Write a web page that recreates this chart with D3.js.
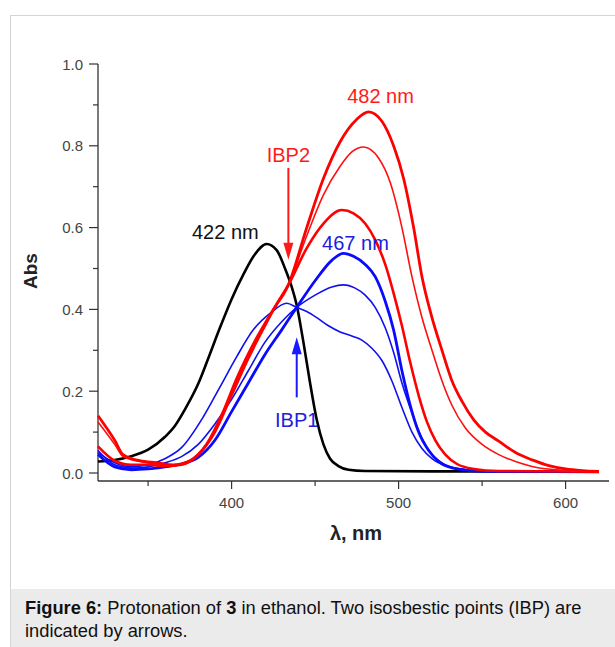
<!DOCTYPE html>
<html><head><meta charset="utf-8">
<script src="https://cdn.jsdelivr.net/npm/d3@7"></script>
<style>
body{margin:0;background:#fff;font-family:"Liberation Sans",Arial,sans-serif;}
</style></head>
<body><svg id="c" width="615" height="647"></svg>
<script>
// ---- data (wavelength nm, absorbance) ----
const xTicks = [400, 500, 600];
const xMinorTicks = [350, 450, 550];
const yTicks = [0.0, 0.2, 0.4, 0.6, 0.8, 1.0];
const yMinorTicks = [0.1, 0.3, 0.5, 0.7, 0.9];
const seriesNames = ["black", "blueA", "blueB", "blueC", "redD", "redE", "redF"];
const black = [[320,0.028],[330,0.032],[340,0.041],[350,0.057],[360,0.088],[366,0.115],[372,0.155],[380,0.218],[386,0.28],[393,0.355],[400,0.425],[407,0.485],[414,0.535],[421,0.56],[427,0.545],[432,0.5],[436,0.455],[439,0.41],[443,0.32],[447,0.22],[451,0.13],[455,0.07],[459,0.035],[464,0.017],[470,0.008],[480,0.005],[520,0.004],[560,0.004],[620,0.003]];
const blueA = [[320,0.05],[330,0.025],[340,0.015],[350,0.02],[360,0.035],[370,0.062],[383,0.137],[393,0.21],[403,0.284],[413,0.35],[423,0.39],[433,0.415],[439,0.405],[445,0.395],[451,0.38],[458,0.36],[465,0.345],[472,0.335],[478,0.325],[484,0.305],[490,0.275],[496,0.225],[502,0.16],[508,0.1],[514,0.06],[520,0.035],[528,0.018],[540,0.008],[555,0.004],[620,0.003]];
const blueB = [[320,0.055],[330,0.02],[340,0.012],[350,0.015],[360,0.025],[370,0.04],[380,0.07],[390,0.12],[400,0.18],[410,0.25],[420,0.32],[430,0.37],[439,0.405],[450,0.435],[460,0.455],[467,0.46],[474,0.452],[480,0.435],[486,0.405],[492,0.355],[497,0.295],[502,0.22],[508,0.147],[514,0.085],[520,0.045],[527,0.022],[540,0.008],[560,0.004],[620,0.003]];
const blueC = [[320,0.045],[330,0.015],[340,0.008],[350,0.01],[360,0.015],[370,0.022],[380,0.038],[390,0.08],[400,0.15],[410,0.22],[420,0.29],[430,0.35],[439,0.405],[450,0.47],[460,0.52],[467,0.537],[473,0.53],[480,0.51],[486,0.48],[492,0.42],[497,0.35],[502,0.25],[507,0.165],[512,0.1],[518,0.055],[525,0.025],[535,0.01],[550,0.004],[620,0.003]];
const redD = [[320,0.065],[330,0.03],[340,0.02],[350,0.02],[360,0.017],[370,0.02],[380,0.045],[390,0.1],[400,0.19],[410,0.28],[420,0.36],[428,0.42],[434,0.46],[445,0.55],[455,0.61],[466,0.643],[473,0.635],[480,0.61],[486,0.57],[492,0.51],[497,0.44],[502,0.36],[507,0.27],[512,0.19],[517,0.125],[522,0.08],[528,0.045],[535,0.022],[545,0.01],[560,0.005],[620,0.003]];
const redE = [[320,0.125],[330,0.07],[335,0.04],[345,0.028],[355,0.022],[365,0.02],[375,0.03],[385,0.07],[395,0.15],[403,0.23],[415,0.33],[425,0.4],[434,0.46],[445,0.58],[455,0.68],[465,0.75],[472,0.785],[479,0.797],[488,0.77],[495,0.71],[502,0.6],[508,0.48],[514,0.38],[520,0.3],[526,0.225],[532,0.165],[540,0.11],[550,0.07],[560,0.045],[570,0.028],[580,0.016],[600,0.006],[620,0.003]];
const redF = [[320,0.14],[330,0.08],[335,0.045],[345,0.03],[355,0.025],[365,0.02],[375,0.03],[385,0.07],[395,0.15],[403,0.23],[415,0.33],[425,0.4],[434,0.46],[445,0.6],[455,0.72],[465,0.81],[475,0.865],[482,0.883],[490,0.86],[497,0.8],[503,0.72],[509,0.6],[514,0.48],[520,0.38],[526,0.3],[532,0.225],[538,0.175],[545,0.13],[552,0.1],[560,0.078],[570,0.05],[580,0.032],[590,0.018],[600,0.01],[610,0.006],[620,0.004]];
const peakLabels = ["422 nm", "482 nm", "467 nm"];
const peakPos = [[422, 0.56], [482, 0.883], [467, 0.537]];
const ibpNames = ["IBP1", "IBP2"];
const ibpPos = [[439, 0.405], [434, 0.46]];

const svg = d3.select("#c");
const FF = "Liberation Sans, Arial, sans-serif";
// figure frame
svg.append("rect").attr("x",10.5).attr("y",15.5).attr("width",620).attr("height",640)
  .attr("fill","#fff").attr("stroke","#d4d4d4");
svg.append("rect").attr("x",11).attr("y",589).attr("width",610).attr("height",70).attr("fill","#ebebeb");
const cap = svg.append("text").attr("x",25).attr("y",614).attr("font-size",18.3).attr("fill","#111")
  .attr("font-family",FF);
cap.append("tspan").attr("font-weight","bold").text("Figure 6:");
cap.append("tspan").text(" Protonation of ");
cap.append("tspan").attr("font-weight","bold").text("3");
cap.append("tspan").text(" in ethanol. Two isosbestic points (IBP) are");
svg.append("text").attr("x",25).attr("y",637).attr("font-size",18.3).attr("fill","#111")
  .attr("font-family",FF).text("indicated by arrows.");

const x = d3.scaleLinear().domain([320, 626]).range([98, 609]);
const y = d3.scaleLinear().domain([0, 1]).range([473, 64]);
const g = svg.append("g");

// x axis
const ax = g.append("g").attr("transform","translate(0,481)");
ax.append("line").attr("x1",98).attr("x2",609).attr("stroke","#333").attr("stroke-width",1.3);
ax.selectAll(".mn").data(xMinorTicks).enter().append("line")
  .attr("x1",d=>x(d)).attr("x2",d=>x(d)).attr("y1",0).attr("y2",5).attr("stroke","#333").attr("stroke-width",1.2);
ax.selectAll(".mj").data(xTicks).enter().append("line")
  .attr("x1",d=>x(d)).attr("x2",d=>x(d)).attr("y1",0).attr("y2",8).attr("stroke","#333").attr("stroke-width",1.2);
ax.selectAll(".lb").data(xTicks).enter().append("text")
  .attr("x",d=>x(d)).attr("y",27).attr("text-anchor","middle").attr("font-size",15).attr("fill","#444")
  .text(d=>d);

// y axis
const ay = g.append("g").attr("transform","translate(98,0)");
ay.append("line").attr("y1",y(1)).attr("y2",481).attr("stroke","#333").attr("stroke-width",1.3);
ay.selectAll(".mn").data(yMinorTicks).enter().append("line")
  .attr("y1",d=>y(d)).attr("y2",d=>y(d)).attr("x1",-5).attr("x2",0).attr("stroke","#333").attr("stroke-width",1.2);
ay.selectAll(".mj").data(yTicks).enter().append("line")
  .attr("y1",d=>y(d)).attr("y2",d=>y(d)).attr("x1",-9).attr("x2",0).attr("stroke","#333").attr("stroke-width",1.2);
ay.selectAll(".lb").data(yTicks).enter().append("text")
  .attr("x",-15).attr("y",d=>y(d)+5.5).attr("text-anchor","end").attr("font-size",15).attr("fill","#444")
  .text(d=>d.toFixed(1));

svg.append("text").attr("transform","translate(37,271) rotate(-90)").attr("text-anchor","middle")
  .attr("font-size",19).attr("font-weight","bold").attr("fill","#222").text("Abs");
svg.append("text").attr("x",356).attr("y",540).attr("text-anchor","middle")
  .attr("font-size",20).attr("font-weight","bold").attr("fill","#222").text("λ, nm");

// curves
const line = d3.line().x(d=>x(d[0])).y(d=>y(d[1])).curve(d3.curveMonotoneX);
const dataMap = {black, blueA, blueB, blueC, redD, redE, redF};
const style = {
  black:["#000",2.6], blueA:["#1010f0",1.6], blueB:["#1010f0",1.6], blueC:["#0a0aff",2.8],
  redD:["#ff0000",2.6], redE:["#ff1010",1.6], redF:["#ff0000",2.8]
};
seriesNames.forEach(n=>{
  g.append("path").datum(dataMap[n]).attr("d",line).attr("fill","none")
   .attr("stroke",style[n][0]).attr("stroke-width",style[n][1]).attr("stroke-linejoin","round");
});

// peak labels
const lblCol = ["#111","#ff1a1a","#2020e0"];
const lblOff = [[-43,-5],[12,-9],[12,-3]];
peakLabels.forEach((t,i)=>{
  svg.append("text").attr("x",x(peakPos[i][0])+lblOff[i][0]).attr("y",y(peakPos[i][1])+lblOff[i][1])
    .attr("text-anchor","middle").attr("font-size",20).attr("fill",lblCol[i]).text(t);
});

// arrows
function arrow(px, tipY, tailY, col, dir){
  svg.append("line").attr("x1",px).attr("x2",px).attr("y1",tailY).attr("y2",tipY - dir*12)
    .attr("stroke",col).attr("stroke-width",2);
  svg.append("path").attr("d",`M${px},${tipY} L${px-5},${tipY-dir*17} L${px+5},${tipY-dir*17} Z`).attr("fill",col);
}
// IBP1 (blue, pointing up)
const p1x = x(ibpPos[0][0]);
arrow(p1x, y(ibpPos[0][1]) + 30, y(ibpPos[0][1]) + 90, "#1a1aff", -1);
svg.append("text").attr("x",p1x).attr("y",y(ibpPos[0][1])+120).attr("text-anchor","middle")
  .attr("font-size",20).attr("fill","#2020e0").text(ibpNames[0]);
// IBP2 (red, pointing down)
const p2x = x(ibpPos[1][0]);
arrow(p2x, y(ibpPos[1][1]) - 25, y(ibpPos[1][1]) - 117, "#ff1a1a", 1);
svg.append("text").attr("x",p2x).attr("y",y(ibpPos[1][1])-123).attr("text-anchor","middle")
  .attr("font-size",20).attr("fill","#ff1a1a").text(ibpNames[1]);
</script></body></html>
